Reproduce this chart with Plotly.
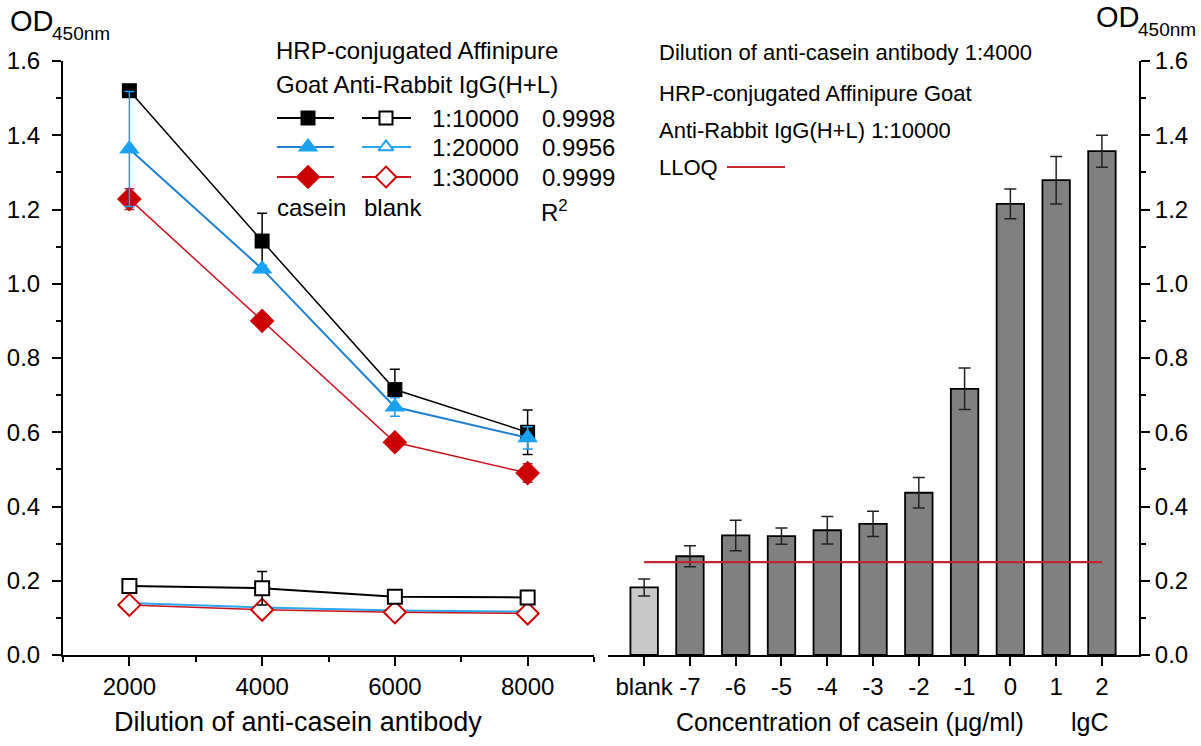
import plotly.graph_objects as go

# ---------------- data (left panel) ----------------
dilution = [2000, 4000, 6000, 8000]
casein_1_10000 = [1.520, 1.115, 0.715, 0.600]
casein_1_10000_err = [0.010, 0.075, 0.055, 0.060]
casein_1_20000 = [1.363, 1.040, 0.668, 0.585]
casein_1_20000_err = [0.155, 0.010, 0.025, 0.030]
casein_1_30000 = [1.228, 0.900, 0.573, 0.490]
casein_1_30000_err = [0.028, 0.008, 0.010, 0.025]
blank_1_10000 = [0.186, 0.180, 0.157, 0.155]
blank_1_10000_err = [0.005, 0.045, 0.005, 0.005]
blank_1_20000 = [0.140, 0.128, 0.120, 0.117]
blank_1_20000_err = [0.008, 0.005, 0.005, 0.005]
blank_1_30000 = [0.135, 0.122, 0.115, 0.112]
blank_1_30000_err = [0.010, 0.010, 0.010, 0.012]

ratios = ["1:10000", "1:20000", "1:30000"]
r_squared = ["0.9998", "0.9956", "0.9999"]

# ---------------- data (right panel) ----------------
categories = ["blank", "-7", "-6", "-5", "-4", "-3", "-2", "-1", "0", "1", "2"]
od_values = [0.182, 0.266, 0.322, 0.320, 0.336, 0.353, 0.437, 0.717, 1.215, 1.279, 1.357]
od_errors = [0.023, 0.028, 0.041, 0.022, 0.037, 0.034, 0.041, 0.056, 0.040, 0.064, 0.043]
lloq = 0.25

left_ticks = [2000, 4000, 6000, 8000]

# ---------------- styling ----------------
W, H = 1201, 746
FONT = "Liberation Sans, Arial, sans-serif"
BLACK = "#000000"
BLUE_M = "#1ba1f2"
BLUE_L = "#1f7fd0"
BLUE_LB = "#2aa8ef"
RED = "#cc0000"
RED_L = "#c8141e"
BAR = "#808080"
BAR_BLANK = "#c8c8c8"
LLOQ_C = "#c0282d"
FS = 24

def fx(p):
    return p / W

def fy(p):
    return 1 - p / H

fig = go.Figure()

def add_series(x, y, err, line_color, marker_color, symbol, filled, lw, size, err_color):
    fig.add_trace(go.Scatter(
        x=x, y=y, mode="lines+markers", xaxis="x", yaxis="y",
        line=dict(color=line_color, width=lw),
        marker=dict(symbol=symbol, size=size, opacity=1,
                    color=marker_color if filled else "white",
                    line=dict(color=marker_color, width=0 if filled else 2)),
        error_y=dict(type="data", array=err, color=err_color, thickness=1.5, width=5),
        showlegend=False, hoverinfo="skip"))

# blanks
add_series(dilution, blank_1_20000, blank_1_20000_err, BLUE_LB, BLUE_M, "triangle-up", False, 2, 14, BLUE_M)
add_series(dilution, blank_1_30000, blank_1_30000_err, RED_L, RED, "diamond", False, 1.5, 17, RED)
add_series(dilution, blank_1_10000, blank_1_10000_err, BLACK, BLACK, "square", False, 2, 14, BLACK)
# casein
add_series(dilution, casein_1_30000, casein_1_30000_err, RED_L, RED, "diamond", True, 1.5, 19, "#a0305a")
add_series(dilution, casein_1_10000, casein_1_10000_err, BLACK, BLACK, "square", True, 1.5, 15, BLACK)
add_series(dilution, casein_1_20000, casein_1_20000_err, BLUE_L, BLUE_M, "triangle-up", True, 2, 18, BLUE_M)

# bars
xcat = list(range(len(categories)))
fig.add_trace(go.Bar(
    x=xcat, y=od_values, xaxis="x2", yaxis="y2", width=0.6,
    marker=dict(color=[BAR_BLANK] + [BAR] * (len(categories) - 1),
                line=dict(color=BLACK, width=1.8)),
    error_y=dict(type="data", array=od_errors, color="#222222", thickness=1.5, width=6),
    showlegend=False, hoverinfo="skip"))
fig.add_trace(go.Scatter(
    x=[xcat[0], xcat[-1]], y=[lloq, lloq], xaxis="x2", yaxis="y2", mode="lines",
    line=dict(color=LLOQ_C, width=2.2), showlegend=False, hoverinfo="skip"))

# ---------------- legend (left) drawn on overlay pixel axes ----------------
leg_rows_y = [118, 147, 177]
leg_specs = [
    (BLACK, BLACK, "square", 15, 13, BLACK),
    (BLUE_L, BLUE_M, "triangle-up", 18, 13, BLUE_LB),
    (RED_L, RED, "diamond", 19, 16, RED_L),
]
for yy, (lc, mc, sym, s_f, s_o, lc_b) in zip(leg_rows_y, leg_specs):
    fig.add_trace(go.Scatter(
        x=[277, 308, 334], y=[yy, yy, yy], xaxis="x3", yaxis="y3", mode="lines+markers",
        line=dict(color=lc, width=1.8),
        marker=dict(symbol=sym, size=[0, s_f, 0], opacity=1, color=mc, line=dict(width=0)),
        showlegend=False, hoverinfo="skip"))
    fig.add_trace(go.Scatter(
        x=[362, 386, 411], y=[yy, yy, yy], xaxis="x3", yaxis="y3", mode="lines+markers",
        line=dict(color=lc_b, width=1.8),
        marker=dict(symbol=sym, size=[0, s_o, 0], opacity=1, color="white",
                    line=dict(color=mc, width=2)),
        showlegend=False, hoverinfo="skip"))

# LLOQ legend line (right)
fig.add_trace(go.Scatter(
    x=[727, 785], y=[167, 167], xaxis="x3", yaxis="y3", mode="lines",
    line=dict(color=LLOQ_C, width=2.2), showlegend=False, hoverinfo="skip"))

annotations = []

def txt(x, y, s, size=FS, anchor="left"):
    annotations.append(dict(x=x, y=y, xref="x3", yref="y3", text=s, showarrow=False,
                            xanchor=anchor, yanchor="middle",
                            font=dict(family=FONT, size=size, color=BLACK)))

txt(274, 50, "HRP-conjugated Affinipure")
txt(274, 84, "Goat Anti-Rabbit IgG(H+L)")
for yy, r, r2 in zip(leg_rows_y, ratios, r_squared):
    txt(430, yy, r)
    txt(540, yy, r2)
txt(275, 207, "casein")
txt(362, 207, "blank")
txt(539, 211, "R<sup>2</sup>")

txt(657, 52, "Dilution of anti-casein antibody 1:4000", size=22)
txt(657, 93, "HRP-conjugated Affinipure Goat", size=22)
txt(657, 130, "Anti-Rabbit IgG(H+L) 1:10000", size=22)
txt(657, 167, "LLOQ", size=22)

# OD labels
txt(8, 21, "OD", size=29)
txt(50, 33, "450nm", size=19)
txt(1094, 17, "OD", size=29)
txt(1136, 29, "450nm", size=19)

txt(298, 722, "Dilution of anti-casein antibody", size=27, anchor="center")
txt(674, 722, "Concentration of casein (μg/ml)", size=25)
txt(1069, 722, "lgC", size=25)

# ---------------- axes ----------------
y0, y1 = fy(655), fy(61)
axis_common = dict(showline=True, linecolor=BLACK, linewidth=2, ticks="outside",
                   tickcolor=BLACK, tickwidth=2, ticklen=9, showgrid=False, zeroline=False,
                   automargin=False,
                   tickfont=dict(family=FONT, size=FS, color=BLACK))

fig.update_layout(
    width=W, height=H, autosize=False,
    margin=dict(l=0, r=0, t=0, b=0, pad=0),
    paper_bgcolor="white", plot_bgcolor="rgba(0,0,0,0)",
    font=dict(family=FONT, size=FS, color=BLACK),
    xaxis=dict(domain=[fx(63), fx(594)], range=[1000, 9000], anchor="y",
               tickvals=left_ticks,
               minor=dict(tickvals=[1000, 3000, 5000, 7000, 9000], ticks="outside",
                          ticklen=5, tickwidth=2, tickcolor=BLACK),
               **axis_common),
    yaxis=dict(domain=[y0, y1], range=[0, 1.6], anchor="x", dtick=0.2, tick0=0,
               tickformat=".1f", ticklabelstandoff=7,
               minor=dict(dtick=0.1, ticks="outside", ticklen=5, tickwidth=2, tickcolor=BLACK),
               **axis_common),
    xaxis2=dict(domain=[fx(608), fx(1139)], range=[-0.79, 10.81], anchor="y2",
                tickvals=xcat, ticktext=categories, **axis_common),
    yaxis2=dict(domain=[y0, y1], range=[0, 1.6], anchor="x2", side="right", dtick=0.2, tick0=0,
                tickformat=".1f",
                minor=dict(dtick=0.1, ticks="outside", ticklen=5, tickwidth=2, tickcolor=BLACK),
                **axis_common),
    xaxis3=dict(domain=[0, 1], range=[0, W], anchor="y3", visible=False, fixedrange=True,
                automargin=False),
    yaxis3=dict(domain=[0, 1], range=[H, 0], anchor="x3", visible=False, fixedrange=True,
                automargin=False),
    annotations=annotations,
)

fig.write_html("out.html", config={"displayModeBar": False, "staticPlot": True},
               post_script="document.body.style.margin='0px';")
